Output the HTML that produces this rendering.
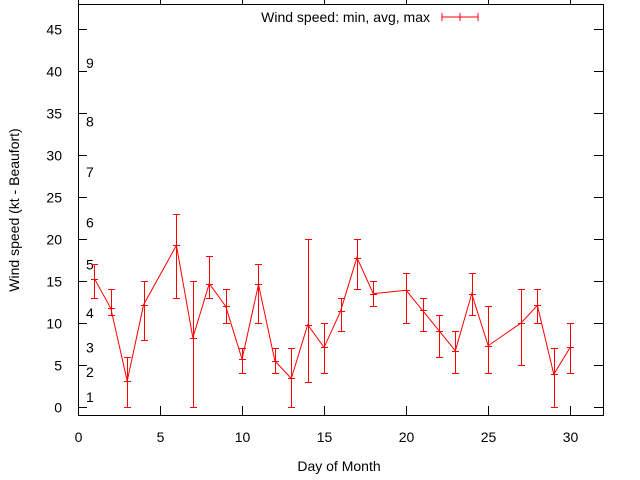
<!DOCTYPE html>
<html><head><meta charset="utf-8"><style>
body{margin:0;background:#fff}
svg{display:block;font-family:"Liberation Sans",sans-serif;font-size:14px}
</style></head><body>
<svg id="chart" width="640" height="480" viewBox="0 0 640 480" xmlns="http://www.w3.org/2000/svg">
<g id="axes"></g><g id="series"></g>
<text x="339" y="471" text-anchor="middle" fill="#000">Day of Month</text>
<text transform="translate(19,210) rotate(-90)" text-anchor="middle" fill="#000">Wind speed (kt - Beaufort)</text>
<g>
<text x="430" y="22" text-anchor="end" fill="#000">Wind speed: min, avg, max</text>
<path d="M442 17H478M442 13V21M478 13V21M460 13V21" stroke="red" stroke-width="1" fill="none"/>
</g>
</svg>
<script>
const days=[1,2,3,4,6,7,8,9,10,11,12,13,14,15,16,17,18,20,21,22,23,24,25,27,28,29,30];
const avgs=[15.3,11.75,3.1,12.2,19.25,8.25,14.7,12,5.7,14.6,5.5,3.4,9.8,7.1,11.4,17.8,13.5,13.9,11.5,9.1,6.7,13.5,7.3,10,12.1,3.9,7.1];
const mins=[13,11,0,8,13,0,13,10,4,10,4,0,3,4,9,14,12,10,9,6,4,11,4,5,10,0,4];
const maxs=[17,14,6,15,23,15,18,14,7,17,7,7,20,10,13,20,15,16,13,11,9,16,12,14,14,7,10];
const yTicks=[0,5,10,15,20,25,30,35,40,45];
const xTicks=[0,5,10,15,20,25,30];
const beaufortLabels=["1","2","3","4","5","6","7","8","9"];
const beaufortValues=[1.2,4.2,7.1,11.2,17,22,28,34,41];
const X0=78,X1=603,Y0=415,Y1=4,XMIN=0,XMAX=32,YMIN=-0.95,YMAX=48;
const sx=v=>X0+(v-XMIN)/(XMAX-XMIN)*(X1-X0);
const sy=v=>Y0-(v-YMIN)/(YMAX-YMIN)*(Y0-Y1);
const NS="http://www.w3.org/2000/svg";
function mk(tag,attrs,parent,txt){const e=document.createElementNS(NS,tag);for(const k in attrs)e.setAttribute(k,attrs[k]);if(txt!==undefined)e.textContent=txt;parent.appendChild(e);return e;}
const ax=document.getElementById('axes');
let f=mk('rect',{x:X0+.5,y:Y1+.5,width:X1-X0,height:Y0-Y1,fill:'none',stroke:'#000','stroke-width':1},ax);


yTicks.forEach(v=>{const y=Math.round(sy(v))+.5;
 let t=mk('path',{d:`M${X0} ${y}h9M${X1} ${y}h-9`,stroke:'#000'},ax);
 
 
 let l=mk('text',{x:62,y:y+5,'text-anchor':'end',fill:'#000'},ax,String(v));
 
 });
xTicks.forEach(v=>{const x=Math.round(sx(v))+.5;
 let t=mk('path',{d:`M${x} ${Y0}v-9M${x} ${Y1}v-4`,stroke:'#000'},ax);
 
 
 let l=mk('text',{x:x,y:442,'text-anchor':'middle',fill:'#000'},ax,String(v));
 
 });
beaufortLabels.forEach((s,i)=>{let l=mk('text',{x:86,y:sy(beaufortValues[i])+5,fill:'#000'},ax,s);
 
 });
const se=document.getElementById('series');
let line=mk('polyline',{points:days.map((d,i)=>sx(d)+','+sy(avgs[i])).join(' '),fill:'none',stroke:'red','stroke-width':1},se);


days.forEach((d,i)=>{const x=Math.round(sx(d))+.5,a=Math.round(sy(avgs[i]))+.5,lo=Math.round(sy(mins[i]))+.5,hi=Math.round(sy(maxs[i]))+.5;
 let e=mk('path',{d:`M${x} ${lo}V${hi}M${x-3.5} ${lo}h7M${x-3.5} ${hi}h7M${x-3.5} ${a}h7`,stroke:'red','stroke-width':1,fill:'none'},se);
 
 });
</script>
</body></html>
